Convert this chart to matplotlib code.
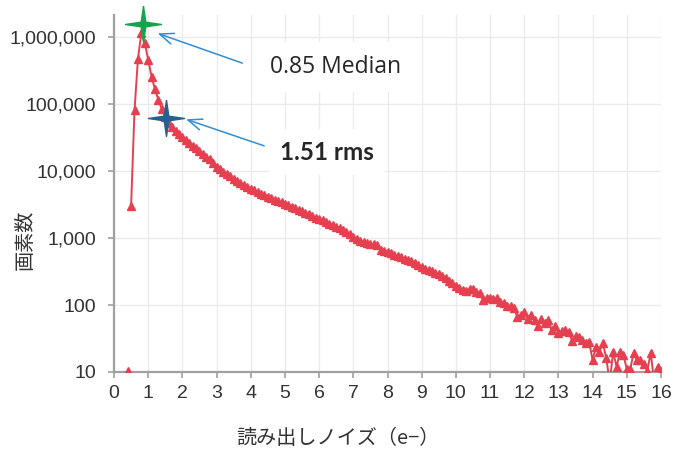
import numpy as np
import matplotlib
matplotlib.use("Agg")
import matplotlib.pyplot as plt
from matplotlib.path import Path
from matplotlib.ticker import FuncFormatter

# histogram bins (e-), 0.1 e- wide, 0.4 .. 16.0
bin_first = 0.4
bin_step = 0.1

# pixel counts per bin
pixel_counts = [
    10.5, 3000, 80000, 470000, 1150000, 820000,                                   # 0.4-0.9
    460000, 255000, 165000, 115000, 84000, 63000, 52000, 45000, 39500, 35500,     # 1.x
    32000, 29000, 26300, 23900, 21800, 19900, 18000, 16400, 14900, 13200,         # 2.x
    11600, 10600, 9800, 9000, 8300, 7700, 7100, 6600, 6200, 5800,                 # 3.x
    5450, 5150, 4850, 4600, 4350, 4150, 3950, 3750, 3580, 3400,                   # 4.x
    3250, 3100, 2950, 2800, 2650, 2500, 2380, 2250, 2130, 2020,                   # 5.x
    1920, 1830, 1730, 1640, 1560, 1480, 1400, 1320, 1230, 1130,                   # 6.x
    1040, 960, 910, 860, 830, 800, 800, 790, 660, 650,                            # 7.x
    620, 590, 560, 530, 520, 490, 470, 460, 430, 390,                             # 8.x
    370, 350, 330, 320, 300, 290, 270, 255, 225, 210,                             # 9.x
    190, 177, 170, 160, 172, 175, 158, 150, 117, 128,                             # 10.x
    126, 122, 128, 110, 106, 95, 97, 89, 66, 72,                                  # 11.x
    78, 62, 72, 60, 48, 61, 53, 60, 42, 48,                                       # 12.x
    38, 41, 42, 40, 29, 34, 33, 30, 27, 28,                                       # 13.x
    15, 24, 20, 27, 16, 7, 20, 12, 20, 18,                                        # 14.x
    11, 11, 19.5, 15, 15, 13, 10.5, 19.5, 7, 12,                                  # 15.x
    10.5,                                                                         # 16.0
]

median_e = 0.85
median_count = 1.56e6
rms_e = 1.51
rms_count = 6.1e4

x_ticks = list(range(0, 17))
y_ticks = [10, 100, 1000, 10000, 100000, 1000000]

noise = np.round(bin_first + bin_step * np.arange(len(pixel_counts)), 1)
counts = np.array(pixel_counts, dtype=float)

red = "#e5404f"
grid_c = "#ebebeb"
spine_c = "#a0a0a0"
txt_c = "#333333"
arrow_c = "#2f8fd0"
jp = ["Noto Sans CJK JP", "DejaVu Sans"]

# 4-pointed star marker
star = Path([(0, 1), (0.13, 0.13), (1, 0), (0.13, -0.13), (0, -1),
             (-0.13, -0.13), (-1, 0), (-0.13, 0.13), (0, 1)])

fig = plt.figure(figsize=(6.74, 4.53), dpi=100)
ax = fig.add_axes([114 / 674, 81 / 453, 547 / 674, 357 / 453])

# first bin is drawn on its own (no line joins it in the original)
ax.plot(noise[:1], counts[:1], ls="none", marker="^", ms=5.5, color=red, zorder=3)
ax.plot(noise[1:], counts[1:], color=red, lw=1.4, marker="^", ms=5.5, zorder=3)

ax.plot([median_e], [median_count], ls="none", marker=star, ms=26,
        color="#13a54b", zorder=5, clip_on=False)
ax.plot([rms_e], [rms_count], ls="none", marker=star, ms=26,
        color="#2b5f8e", zorder=5, clip_on=False)

ax.set_yscale("log")
ax.set_xlim(0, 16)
ax.set_ylim(10, 2.13e6)
ax.set_xticks(x_ticks)
ax.set_yticks(y_ticks)
ax.yaxis.set_minor_locator(matplotlib.ticker.NullLocator())
ax.yaxis.set_major_formatter(FuncFormatter(lambda v, p: f"{v:,.0f}"))

ax.grid(True, color=grid_c, lw=1.0, zorder=0)
ax.set_axisbelow(True)
for s in ["top", "right"]:
    ax.spines[s].set_visible(False)
for s in ["left", "bottom"]:
    ax.spines[s].set_color(spine_c)
    ax.spines[s].set_linewidth(1.6)

ax.tick_params(axis="both", colors=spine_c, length=4, width=1.2,
               labelcolor=txt_c, labelsize=14)
ax.tick_params(axis="y", pad=9)
ax.tick_params(axis="x", pad=5)
for lab in ax.get_xticklabels() + ax.get_yticklabels():
    lab.set_family("Liberation Sans")

ax.set_xlabel("読み出しノイズ（e−）", family=jp, fontsize=14.5, color=txt_c, va="center")
ax.xaxis.set_label_coords(0.41, -0.185)
ax.set_ylabel("画素数", family=jp, fontsize=14.5, color=txt_c, va="center")
ax.yaxis.set_label_coords(-0.163, 0.37)

# callouts
ax.text(4.56, 3.57e5, "0.85 Median", family="Open Sans", fontsize=16.5,
        color="#262626", va="center", ha="left", zorder=4,
        bbox=dict(facecolor="white", edgecolor="none", pad=9))
ax.text(4.85, 1.92e4, "1.51 rms", family="Lato", fontweight="bold", fontsize=17.5,
        color="#262626", va="center", ha="left", zorder=4,
        bbox=dict(facecolor="white", edgecolor="none", pad=8))

ax.annotate("", xy=(1.2, 1.17e6), xytext=(3.83, 3.95e5),
            arrowprops=dict(arrowstyle="->,head_length=1.0,head_width=0.4",
                            color=arrow_c, lw=1.1), zorder=6)
ax.annotate("", xy=(2.03, 6.1e4), xytext=(4.47, 2.3e4),
            arrowprops=dict(arrowstyle="->,head_length=1.0,head_width=0.4",
                            color=arrow_c, lw=1.1), zorder=6)

fig.savefig("out.png", dpi=100)
